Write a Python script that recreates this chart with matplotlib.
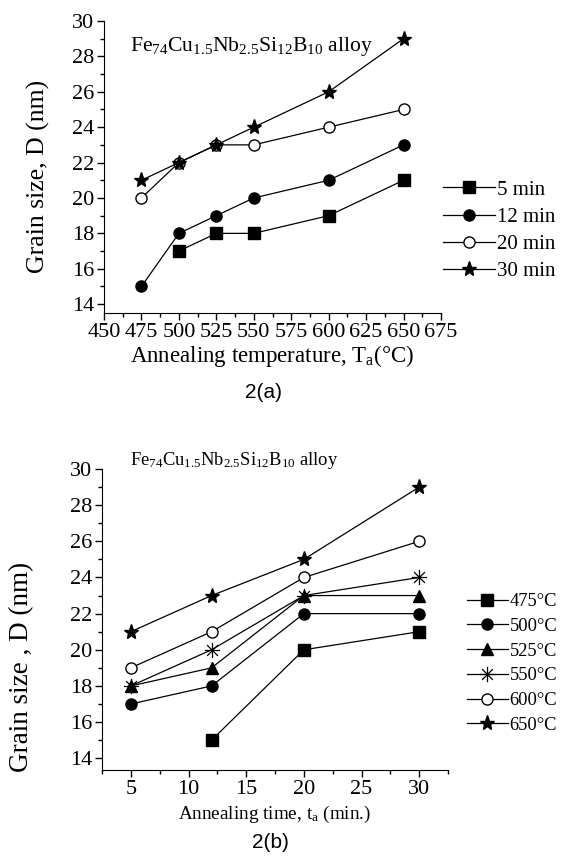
import matplotlib
matplotlib.use("Agg")
import matplotlib.pyplot as plt
from matplotlib.ticker import MultipleLocator
from matplotlib.path import Path
import numpy as np

plt.rcParams['font.family'] = ['Liberation Serif', 'DejaVu Serif']
plt.rcParams['mathtext.default'] = 'regular'

# ---- data (a) ----
temps = [475, 500, 525, 550, 600, 650]
a_labels = ['5 min', '12 min', '20 min', '30 min']
a_5 = [None, 17, 18, 18, 19, 21]
a_12 = [15, 18, 19, 20, 21, 23]
a_20 = [20, 22, 23, 23, 24, 25]
a_30 = [21, 22, 23, 24, 26, 29]

# ---- data (b) ----
times = [5, 12, 20, 30]
b_labels = ['475°C', '500°C', '525°C', '550°C', '600°C', '650°C']
b_475 = [None, 15, 20, 21]
b_500 = [17, 18, 22, 22]
b_525 = [18, 19, 23, 23]
b_550 = [18, 20, 23, 24]
b_600 = [19, 21, 24, 26]
b_650 = [21, 23, 25, 29]

W, H = 569, 857
fig = plt.figure(figsize=(W/100, H/100), dpi=100)

# asterisk marker (8 arms)
verts, codes = [], []
for ang in [0, 45, 90, 135]:
    a = np.deg2rad(ang)
    verts += [(-np.cos(a), -np.sin(a)), (np.cos(a), np.sin(a))]
    codes += [Path.MOVETO, Path.LINETO]
ASTER = Path(verts, codes)

def pos(l, r, t, b):
    return [l/W, 1-b/H, (r-l)/W, (b-t)/H]

def style(ax):
    for s in ['top', 'right']:
        ax.spines[s].set_visible(False)
    ax.tick_params(which='major', direction='out', length=5, width=1, labelsize=16, pad=2)
    ax.tick_params(which='minor', direction='out', length=3, width=1)

def pts(xs, ys):
    px = [x for x, y in zip(xs, ys) if y is not None]
    py = [y for y in ys if y is not None]
    return px, py

# ---- top axes ----
ax1 = fig.add_axes(pos(104, 441, 21, 313))
style(ax1)
markers_a = [('s', 'k'), ('o', 'k'), ('o', 'w'), ('*', 'k')]
for ys, lab, (m, fc) in zip([a_5, a_12, a_20, a_30], a_labels, markers_a):
    px, py = pts(temps, ys)
    ms = 11 if m == '*' else 8
    ax1.plot(px, py, color='k', lw=0.9, marker=m, markersize=ms,
             markerfacecolor=fc, markeredgecolor='k', label=lab, clip_on=False)
ax1.set_xlim(450, 675)
ax1.set_ylim(13.5, 30)
ax1.xaxis.set_major_locator(MultipleLocator(25))
ax1.xaxis.set_minor_locator(MultipleLocator(12.5))
ax1.yaxis.set_major_locator(MultipleLocator(2))
ax1.yaxis.set_minor_locator(MultipleLocator(1))
ax1.set_xlabel('Annealing temperature, T$_a$(°C)', fontsize=16.5, labelpad=1)
ax1.set_ylabel('Grain size, D (nm)', fontsize=18.5)
ax1.yaxis.set_label_coords((50 - 104) / 337, 0.469)
ax1.text(26/337, 1-30/292, 'Fe$_{74}$Cu$_{1.5}$Nb$_{2.5}$Si$_{12}$B$_{10}$ alloy',
         transform=ax1.transAxes, fontsize=15.6, va='baseline', ha='left')
ax1.legend(loc='upper left', bbox_to_anchor=(443/W, 1-180/H), bbox_transform=fig.transFigure,
           frameon=False, fontsize=15, handlelength=2.5, handletextpad=0.1,
           labelspacing=0.37, borderpad=0, borderaxespad=0)
fig.text(263/W, 1-392/H, '2(a)', family='Liberation Sans', fontsize=15, ha='center', va='center')

# ---- bottom axes ----
ax2 = fig.add_axes(pos(102, 448, 469, 770))
style(ax2)
markers_b = [('s', 'k'), ('o', 'k'), ('^', 'k'), (ASTER, 'k'), ('o', 'w'), ('*', 'k')]
for ys, lab, (m, fc) in zip([b_475, b_500, b_525, b_550, b_600, b_650], b_labels, markers_b):
    px, py = pts(times, ys)
    if isinstance(m, Path):
        ax2.plot(px, py, color='k', lw=0.9, marker=m, markersize=11,
                 markerfacecolor='none', markeredgecolor='k', markeredgewidth=0.9,
                 label=lab, clip_on=False)
    else:
        ms = 11 if m == '*' else 8
        ax2.plot(px, py, color='k', lw=0.9, marker=m, markersize=ms,
                 markerfacecolor=fc, markeredgecolor='k', label=lab, clip_on=False)
ax2.set_xlim(2.5, 32.5)
ax2.set_ylim(13.35, 30)
ax2.xaxis.set_major_locator(MultipleLocator(5))
ax2.xaxis.set_minor_locator(MultipleLocator(2.5))
ax2.yaxis.set_major_locator(MultipleLocator(2))
ax2.yaxis.set_minor_locator(MultipleLocator(1))
ax2.set_xlabel('Annealing time, t$_a$ (min.)', fontsize=13.8, labelpad=4)
ax2.set_ylabel('Grain size , D (nm)', fontsize=19.5)
ax2.yaxis.set_label_coords((34 - 102) / 346, 0.342)
fig.text(130/W, 1-465/H, 'Fe$_{74}$Cu$_{1.5}$Nb$_{2.5}$Si$_{12}$B$_{10}$ alloy',
         fontsize=13.3, va='baseline', ha='left')
ax2.legend(loc='upper left', bbox_to_anchor=(467/W, 1-593/H), bbox_transform=fig.transFigure,
           frameon=False, fontsize=13.3, handlelength=2.2, handletextpad=0.1,
           labelspacing=0.42, borderpad=0, borderaxespad=0)
fig.text(270/W, 1-843/H, '2(b)', family='Liberation Sans', fontsize=15, ha='center', va='center')

fig.savefig('out.png', dpi=100)
